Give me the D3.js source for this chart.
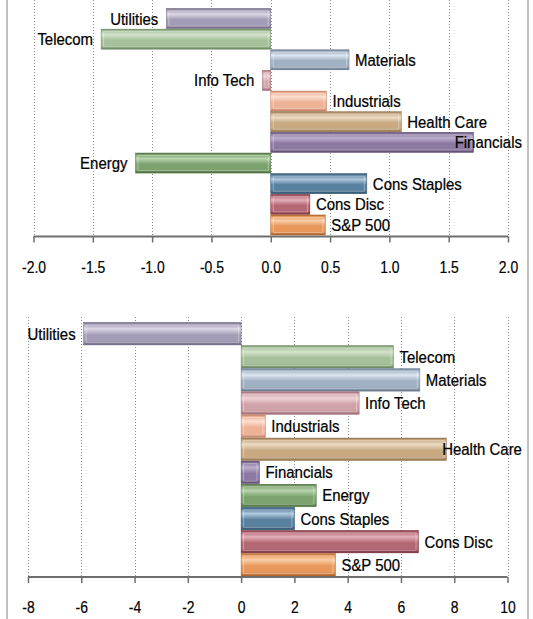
<html>
<head>
<meta charset="utf-8">
<style>
  body { margin: 0; background: #fff; }
  text { font-family: "Liberation Sans", Arial, sans-serif; fill: #000; }
</style>
</head>
<body>
<script src="https://d3js.org/d3.v7.min.js"></script>
<script>
// sector names, same order in both charts (top of chart first)
var categories = ["Utilities", "Telecom", "Materials", "Info Tech", "Industrials",
                  "Health Care", "Financials", "Energy", "Cons Staples", "Cons Disc", "S&P 500"];
var topValues = [-0.88, -1.43, 0.66, -0.07, 0.47, 1.10, 1.71, -1.14, 0.81, 0.33, 0.46];
var bottomValues = [-5.91, 5.72, 6.71, 4.43, 0.91, 7.71, 0.69, 2.82, 2.00, 6.66, 3.54];
var topTicks = [-2.0, -1.5, -1.0, -0.5, 0.0, 0.5, 1.0, 1.5, 2.0];
var bottomTicks = [-8, -6, -4, -2, 0, 2, 4, 6, 8, 10];
// base, light, dark for each sector
var barColors = [
  ["#a49cb6", "#ddd8e6", "#6c6480"],
  ["#a6c09b", "#d3e3cb", "#6a875e"],
  ["#a0b1c3", "#dbe6f1", "#67798c"],
  ["#d0a3a9", "#efd3d6", "#9c6770"],
  ["#eeb297", "#fde0d0", "#c68063"],
  ["#c8a982", "#ecdcc4", "#927048"],
  ["#8c79a2", "#bcaecd", "#5b4970"],
  ["#7ca26e", "#b8d4ad", "#4b703d"],
  ["#58809f", "#b0c9de", "#2c506e"],
  ["#b46874", "#e4b0b8", "#7b303d"],
  ["#e8985b", "#f9cfa8", "#ad6128"]
];

var W = 533, H = 619;
var SQ = 0.88;     // horizontal squeeze of the labels, narrow look
var TICK_SQ = 0.82;
var svg = d3.select("body").append("svg").attr("width", W).attr("height", H);
var defs = svg.append("defs");

barColors.forEach(function(c, i) {
  var g = defs.append("linearGradient").attr("id", "grad" + i)
    .attr("x1", 0).attr("y1", 0).attr("x2", 0).attr("y2", 1);
  g.append("stop").attr("offset", "0%").attr("stop-color", c[2]);
  g.append("stop").attr("offset", "8%").attr("stop-color", c[0]);
  g.append("stop").attr("offset", "28%").attr("stop-color", c[1]);
  g.append("stop").attr("offset", "55%").attr("stop-color", c[0]);
  g.append("stop").attr("offset", "82%").attr("stop-color", c[0]);
  g.append("stop").attr("offset", "100%").attr("stop-color", c[2]);
});

// outer frame
svg.append("line").attr("x1", 7).attr("x2", 7).attr("y1", 0).attr("y2", H)
   .attr("stroke", "#c0c0c0").attr("stroke-width", 2);
svg.append("line").attr("x1", 528).attr("x2", 528).attr("y1", 0).attr("y2", H)
   .attr("stroke", "#c0c0c0").attr("stroke-width", 2);

drawChart(topValues, topTicks, function(d){ return d.toFixed(1); },
          [33.5, 508], [8.5, 235], 0, 236.5);
drawChart(bottomValues, bottomTicks, function(d){ return String(d); },
          [28, 507.5], [322.5, 576], 317, 577);

function drawChart(values, ticks, fmt, xr, yr, gridTop, axisY) {
  var x = d3.scaleLinear().domain([ticks[0], ticks[ticks.length - 1]]).range(xr);
  var y = d3.scaleBand().domain(categories).range(yr).paddingInner(0.03);
  var g = svg.append("g");

  // dotted gridlines
  g.selectAll("line.grid").data(ticks).enter().append("line")
   .attr("class", "grid")
   .attr("x1", function(d){ return Math.round(x(d)) + 0.5; })
   .attr("x2", function(d){ return Math.round(x(d)) + 0.5; })
   .attr("y1", gridTop).attr("y2", axisY)
   .attr("stroke", "#8c8c8c").attr("stroke-width", 1)
   .attr("stroke-dasharray", "1,2");

  var data = categories.map(function(c, i){ return {name: c, value: values[i], i: i}; });

  var bars = g.selectAll("g.bar").data(data).enter().append("g").attr("class", "bar");
  bars.append("rect")
      .attr("x", function(d){ return x(Math.min(0, d.value)); })
      .attr("y", function(d){ return y(d.name); })
      .attr("width", function(d){ return Math.abs(x(d.value) - x(0)); })
      .attr("height", y.bandwidth())
      .attr("fill", function(d){ return "url(#grad" + d.i + ")"; })
      .attr("stroke", function(d){ return barColors[d.i][2]; })
      .attr("stroke-width", 0.5);
  // bevel highlight inside the bar
  bars.append("rect")
      .attr("x", function(d){ return x(Math.min(0, d.value)) + 2.5; })
      .attr("y", function(d){ return y(d.name) + 2.5; })
      .attr("width", function(d){ return Math.max(0, Math.abs(x(d.value) - x(0)) - 5); })
      .attr("height", y.bandwidth() - 5)
      .attr("fill", "none")
      .attr("stroke", "#ffffff").attr("stroke-opacity", 0.35).attr("stroke-width", 1);

  // category labels next to the bar end
  bars.append("text")
      .style("font-size", "17px")
      .attr("stroke", "#000").attr("stroke-width", 0.25)
      .text(function(d){ return d.name; })
      .each(function(d) {
        var w = this.getComputedTextLength() * SQ;
        var tx;
        if (d.value < 0) {
          tx = x(d.value) - 8 - w;
        } else {
          tx = Math.min(x(d.value) + 6, 522 - w);
        }
        var ty = y(d.name) + y.bandwidth() / 2 + 6;
        d3.select(this).attr("transform", "translate(" + tx + "," + ty + ") scale(" + SQ + ",1)");
      });

  // value axis
  var axis = g.append("g").attr("transform", "translate(0," + axisY + ")")
    .call(d3.axisBottom(x).tickValues(ticks).tickFormat(fmt).tickSize(6).tickPadding(18));
  axis.select(".domain").attr("stroke", "#6e6e6e").attr("stroke-width", 2.2)
      .attr("d", "M" + xr[0] + ",0H" + xr[1]);
  axis.selectAll(".tick line").attr("stroke", "#6e6e6e").attr("stroke-width", 1.5);
  axis.selectAll(".tick text").style("font-size", "17px")
      .style("font-family", "'Liberation Sans', Arial, sans-serif")
      .attr("stroke", "#000").attr("stroke-width", 0.2)
      .attr("transform", "scale(" + TICK_SQ + ",1)");
}
</script>
</body>
</html>
